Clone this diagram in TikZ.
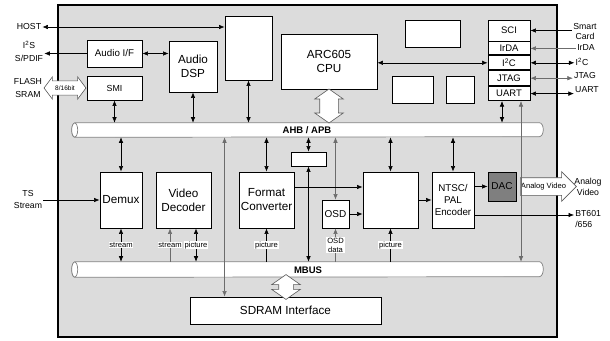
\documentclass[tikz,border=0pt]{standalone}
\usepackage{fontspec}
\setmainfont{Liberation Sans}
\usetikzlibrary{positioning,arrows.meta,shapes.arrows}
\definecolor{chipgray}{HTML}{DCDCDC}
\definecolor{dacgray}{HTML}{7F7F7F}

\begin{document}
\begin{tikzpicture}[
  x=1pt, y=-1pt,
  blk/.style={draw=black, fill=white, line width=0.9pt, inner sep=0pt, align=center},
  bigtxt/.style={font=\fontsize{11.7}{14}\selectfont},
  midtxt/.style={font=\fontsize{9.8}{12}\selectfont},
  periph/.style={blk, minimum width=42pt, font=\fontsize{9.5}{10}\selectfont},
  exttxt/.style={font=\fontsize{8.7}{12}\selectfont, align=center, inner sep=1pt},
  rtxt/.style={font=\fontsize{8.7}{10.5}\selectfont, align=center, inner sep=1pt},
  lbl/.style={fill=white, inner sep=0.8pt, font=\fontsize{7.6}{9}\selectfont, align=center},
  busbox/.style={inner sep=0pt, minimum width=468pt},
  bus/.style={draw=gray, fill=white, line width=0.7pt},
  bustxt/.style={font=\fontsize{9.5}{10}\selectfont\bfseries},
  fat/.style={draw=gray!70!black, fill=white, line width=0.6pt},
  gwire/.style={draw=gray!85!black},
  every path/.append style={line width=0.6pt},
  >={Latex[length=5.5pt,width=4.5pt]}
]
  \useasboundingbox (0,0) rectangle (610,340);
  \draw[line width=2.2pt, fill=chipgray] (58,5) rectangle (557,337);

  \node[busbox, minimum height=14pt] (ahb) at (309,130) {};
  \path[bus] (ahb.north west) -- ([xshift=-4pt]ahb.north east)
    arc[start angle=90, end angle=-90, x radius=4pt, y radius=7pt]
    -- (ahb.south west) arc[start angle=270, end angle=90, x radius=3pt, y radius=7pt] -- cycle;
  \draw[bus] (ahb.west) ellipse[x radius=3pt, y radius=7pt];
  \node[bustxt] (ahbtxt) at (307,130) {AHB / APB};

  \node[busbox, minimum height=15pt] (mbus) at (309,269.5) {};
  \path[bus] (mbus.north west) -- ([xshift=-4pt]mbus.north east)
    arc[start angle=90, end angle=-90, x radius=4pt, y radius=7.5pt]
    -- (mbus.south west) arc[start angle=270, end angle=90, x radius=3pt, y radius=7.5pt] -- cycle;
  \draw[bus] (mbus.west) ellipse[x radius=3pt, y radius=7.5pt];
  \node[bustxt] (mbustxt) at (308,270) {MBUS};

  \node[blk, minimum width=47pt, minimum height=64pt] (blankA) at (248.5,48) {};
  \node[blk, bigtxt, minimum width=96pt, minimum height=55pt] (cpu) at (329,61.5) {ARC605\\CPU};
  \node[blk, minimum width=55pt, minimum height=27pt] (blankB) at (432.5,33.5) {};
  \node[blk, minimum width=41pt, minimum height=27pt] (blankC) at (412.5,89.5) {};
  \node[blk, minimum width=28pt, minimum height=27pt] (blankD) at (460,89.5) {};
  \node[blk, font=\fontsize{9.75}{11}\selectfont, minimum width=55pt, minimum height=27pt] (audioif) at (114.5,53.5) {Audio I/F};
  \node[blk, bigtxt, minimum width=48pt, minimum height=51pt] (dsp) at (193,66.5) {Audio\\DSP};
  \node[blk, font=\fontsize{8.8}{10}\selectfont, minimum width=55pt, minimum height=24pt] (smi) at (114.5,88) {SMI};

  \node[periph, minimum height=21pt] (sci) at (509,30.5) {SCI};
  \node[periph, minimum height=13pt, below=0pt of sci] (irda) {IrDA};
  \node[periph, minimum height=14pt, below=0pt of irda] (iic) {I\textsuperscript{2}C};
  \node[periph, minimum height=15pt, below=0pt of iic] (jtag) {JTAG};
  \node[periph, minimum height=14pt, below=0pt of jtag] (uart) {UART};

  \node[blk, bigtxt, minimum width=42pt, minimum height=56pt] (demux) at (121,200) {Demux};
  \node[blk, bigtxt, minimum width=55pt, minimum height=56pt] (vdec) at (183.5,200) {Video\\Decoder};
  \node[blk, bigtxt, minimum width=55pt, minimum height=56pt] (fconv) at (266.5,200) {Format\\Converter};
  \node[blk, minimum width=35pt, minimum height=14pt] (blankE) at (308.5,159) {};
  \node[blk, font=\fontsize{10}{11}\selectfont, minimum width=27pt, minimum height=28pt] (osd) at (335.5,214) {OSD};
  \node[blk, minimum width=55pt, minimum height=56pt] (mixer) at (390.5,200) {};
  \node[blk, midtxt, minimum width=42pt, minimum height=56pt] (ntsc) at (453,200) {NTSC/\\PAL\\Encoder};
  \node[blk, fill=dacgray, font=\fontsize{10}{11}\selectfont, minimum width=28pt, minimum height=29pt] (dac) at (502,186.5) {DAC};
  \node[blk, bigtxt, minimum width=191pt, minimum height=27pt] (sdram) at (285.5,310.5) {SDRAM Interface};

  \node[fat, double arrow, double arrow tip angle=106, double arrow head extend=4pt,
    minimum height=42pt, inner xsep=0pt, inner ysep=4.5pt, font=\fontsize{6.5}{7}\selectfont] (flash) at (65,88) {8/16bit};
  \node[fat, double arrow, shape border rotate=90, double arrow tip angle=110, double arrow head extend=5pt,
    minimum height=34pt, inner sep=9pt] (cpuarrow) at (329,106) {};
  \node[fat, double arrow, shape border rotate=90, double arrow tip angle=110, double arrow head extend=7pt,
    minimum height=20pt, inner sep=7pt] (sdarrow) at (286,287) {};
  \node[fat, single arrow, single arrow head extend=6pt, minimum height=56pt, inner xsep=0pt, inner ysep=8.5pt] (avarrow) at (544,186.5) {};
  \node[font=\fontsize{7.6}{9}\selectfont, inner sep=0pt] (avtxt) at (543.5,186.5) {Analog Video};

  \node[exttxt] (host) at (29,27) {HOST};
  \node[exttxt, font=\fontsize{8.7}{13}\selectfont] (i2s) at (29,51.5) {I\textsuperscript{2}S\\S/PDIF};
  \node[exttxt, font=\fontsize{8.7}{13}\selectfont] (flashmem) at (28,88.5) {FLASH\\SRAM};
  \node[exttxt] (ts) at (28,200) {TS\\Stream};
  \node[rtxt] (smart) at (585,31.5) {Smart\\Card};
  \node[rtxt] (irdaext) at (586,48) {IrDA};
  \node[rtxt] (iicext) at (582,62) {I\textsuperscript{2}C};
  \node[rtxt] (jtagext) at (585,76) {JTAG};
  \node[rtxt] (uartext) at (587,90) {UART};
  \node[rtxt] (avext) at (588,187) {Analog\\Video};
  \node[rtxt, align=left, anchor=west] (bt) at (574,219) {BT601\\/656};

  \draw[<->] (host.east) -- (host.east -| blankA.west);
  \draw[->] (audioif.west) -- (audioif.west -| i2s.east);
  \draw[<->] (audioif.east) -- (audioif.east -| dsp.west);
  \draw[->] (ts.east) -- (ts.east -| demux.west);
  \draw[<-] (sci.east) -- (sci.east -| smart.west);
  \draw[gwire, <-] (irda.east) -- (irda.east -| irdaext.west);
  \draw[<->] (iic.east) -- (iic.east -| iicext.west);
  \draw[gwire, <->] (jtag.east) -- (jtag.east -| jtagext.west);
  \draw[<->] (uart.east) -- (uart.east -| uartext.west);
  \draw[<->] (iic.west) -- (iic.west -| cpu.east);

  \draw[<->] (smi.south) -- (smi.south |- ahb.north);
  \draw[<->] (dsp.south) -- (dsp.south |- ahb.north);
  \draw[<->] (blankA.south) -- (blankA.south |- ahb.north);
  \draw[<->] ([xshift=-7pt]uart.south) -- ([xshift=-7pt]uart.south |- ahb.north);
  \draw[gwire, <->] ([xshift=12pt]uart.south) -- ([xshift=12pt]uart.south |- mbus.north);

  \draw[<->] (ahb.south -| demux.north) -- (demux.north);
  \draw[gwire, <->] (ahb.south -| blankA.west) -- (sdram.north -| blankA.west);
  \draw[<->] (ahb.south -| fconv.north) -- (fconv.north);
  \draw[<->] (ahb.south -| blankE.north) -- (blankE.north);
  \draw[gwire, <->] (ahb.south -| osd.north) -- (osd.north);
  \draw[<->] (ahb.south -| mixer.north) -- (mixer.north);
  \draw[<->] (ahb.south -| ntsc.north) -- (ntsc.north);
  \draw[<->] (blankE.south) -- (blankE.south |- mbus.north);

  \draw[<->] (demux.south) -- node[lbl] {stream} (demux.south |- mbus.north);
  \draw[gwire, ->] ([xshift=-13.5pt]vdec.south |- mbus.north) -- node[lbl] {stream} ([xshift=-13.5pt]vdec.south);
  \draw[<->] ([xshift=12.5pt]vdec.south) -- node[lbl] {picture} ([xshift=12.5pt]vdec.south |- mbus.north);
  \draw[->] (fconv.south |- mbus.north) -- node[lbl] {picture} (fconv.south);
  \draw[gwire, ->] (osd.south |- mbus.north) -- node[lbl] {OSD\\data} (osd.south);
  \draw[->] (mixer.south |- mbus.north) -- node[lbl] {picture} (mixer.south);

  \draw[->] ([yshift=13pt]fconv.east) -- ([yshift=13pt]fconv.east -| mixer.west);
  \draw[->] (osd.east) -- (osd.east -| mixer.west);
  \draw[->] (mixer.east) -- (mixer.east -| ntsc.west);
  \draw[->] (dac.west -| ntsc.east) -- (dac.west);
  \draw[->] ([yshift=-15pt]ntsc.east) -- ([yshift=-15pt]ntsc.east -| bt.west);
\end{tikzpicture}
\end{document}
